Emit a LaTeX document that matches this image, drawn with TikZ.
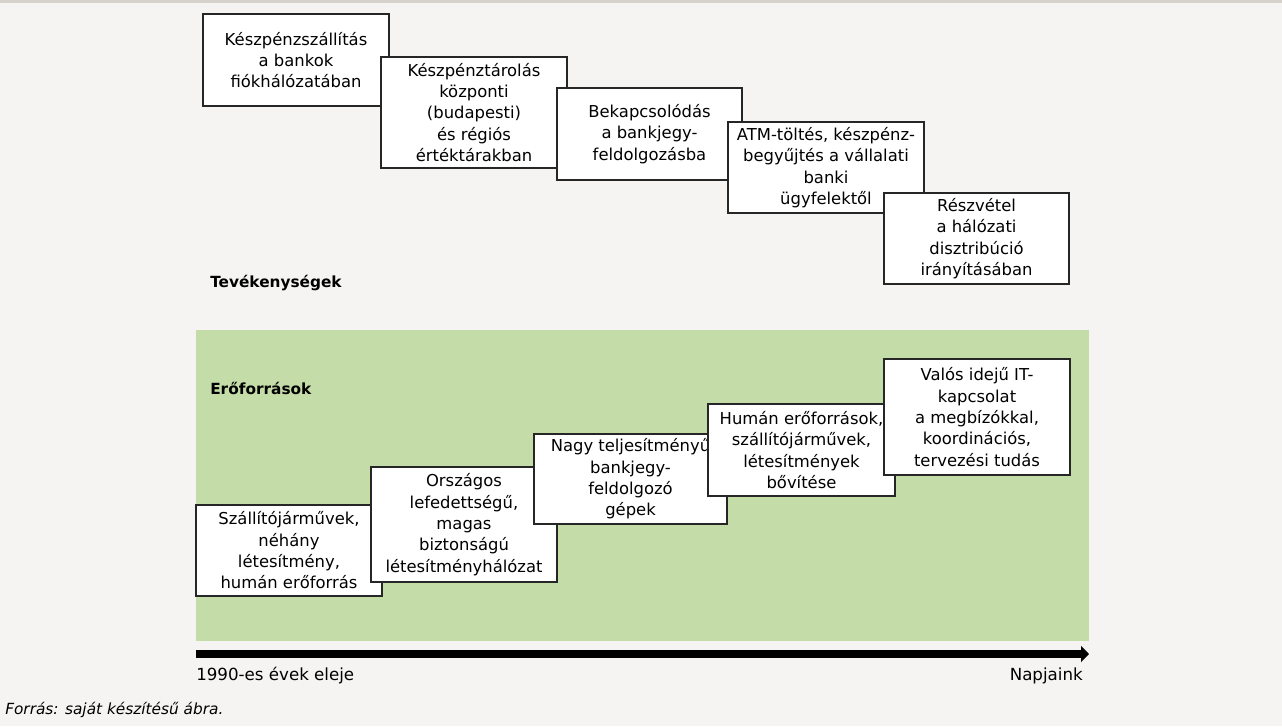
\documentclass[tikz,border=0pt]{standalone}
\usepackage{fontspec}
\setmainfont{DejaVu Sans}
\usepackage{xcolor}
\usepackage{tikz}
\usetikzlibrary{arrows.meta}

\definecolor{hatter}{HTML}{F5F4F2}
\definecolor{sav}{HTML}{D6D1CB}
\definecolor{zold}{HTML}{C4DDA8}

\begin{document}
\begin{tikzpicture}[x=0.75pt, y=-0.75pt,
    doboz/.style={rectangle, draw=black!85, line width=0.9pt, fill=white, align=center, inner sep=0pt, font=\fontsize{12.3}{16}\selectfont},
    cimke/.style={anchor=west, inner sep=0pt, font=\fontsize{11.5}{14}\selectfont\bfseries},
    idovonal/.style={inner sep=0pt, font=\fontsize{12.5}{15}\selectfont}]
    \useasboundingbox (0,0) rectangle (1282,726);
    \fill[hatter] (0,0) rectangle (1282,726);
    \fill[sav] (0,0) rectangle (1282,3);
    \fill[zold] (196,330) rectangle (1089,641);

    % tevékenységek
    \node (szallitas) [doboz, minimum width=139.5pt, minimum height=69pt] at (296,60) {Készpénzszállítás\\a bankok\\fiókhálózatában};
    \node (tarolas) [doboz, minimum width=139.5pt, minimum height=83.25pt] at (474,112.5) {Készpénztárolás\\központi\\(budapesti)\\és régiós\\értéktárakban};
    \node (bankjegy) [doboz, minimum width=138.75pt, minimum height=69pt] at (649.5,134) {Bekapcsolódás\\a bankjegy-\\feldolgozásba};
    \node (atm) [doboz, minimum width=147pt, minimum height=68.25pt] at (826,167.5) {ATM-töltés, készpénz-\\begyűjtés a vállalati\\banki\\ügyfelektől};
    \node (halozat) [doboz, minimum width=138.75pt, minimum height=68.25pt] at (976.5,238.5) {Részvétel\\a hálózati\\disztribúció\\irányításában};
    \node (tevekenyseg) [cimke] at (210,283) {Tevékenységek};

    % erőforrások
    \node (eroforras) [cimke] at (210,388) {Erőforrások};
    \node (jarmuvek) [doboz, minimum width=139.5pt, minimum height=68.25pt] at (289,550.5) {Szállítójárművek,\\néhány\\létesítmény,\\humán erőforrás};
    \node (letesitmeny) [doboz, minimum width=139.5pt, minimum height=86.25pt] at (464,524.5) {Országos\\lefedettségű,\\magas\\biztonságú\\létesítményhálózat};
    \node (gepek) [doboz, minimum width=144.75pt, minimum height=67.5pt] at (630.5,479) {Nagy teljesítményű\\bankjegy-\\feldolgozó\\gépek};
    \node (bovites) [doboz, minimum width=140.25pt, minimum height=69pt] at (801.5,450) {Humán erőforrások,\\szállítójárművek,\\létesítmények\\bővítése};
    \node (itkapcsolat) [doboz, minimum width=139.5pt, minimum height=87pt] at (977,417) {Valós idejű IT-\\kapcsolat\\a megbízókkal,\\koordinációs,\\tervezési tudás};

    % idővonal
    \coordinate (ido0) at (196,654);
    \coordinate (ido1) at (1089,654);
    \draw [line width=5.6pt, -{Triangle[length=6pt, width=12pt]}] (ido0) -- (ido1);
    \node (kezdet) [idovonal, anchor=west] at (196,676) {1990-es évek eleje};
    \node (napjaink) [idovonal, anchor=east] at (1083,676) {Napjaink};

    \node (forras) [anchor=west, inner sep=0pt, font=\fontsize{11.5}{14}\selectfont\itshape] at (5,710) {Forrás: saját készítésű ábra.};
\end{tikzpicture}
\end{document}
